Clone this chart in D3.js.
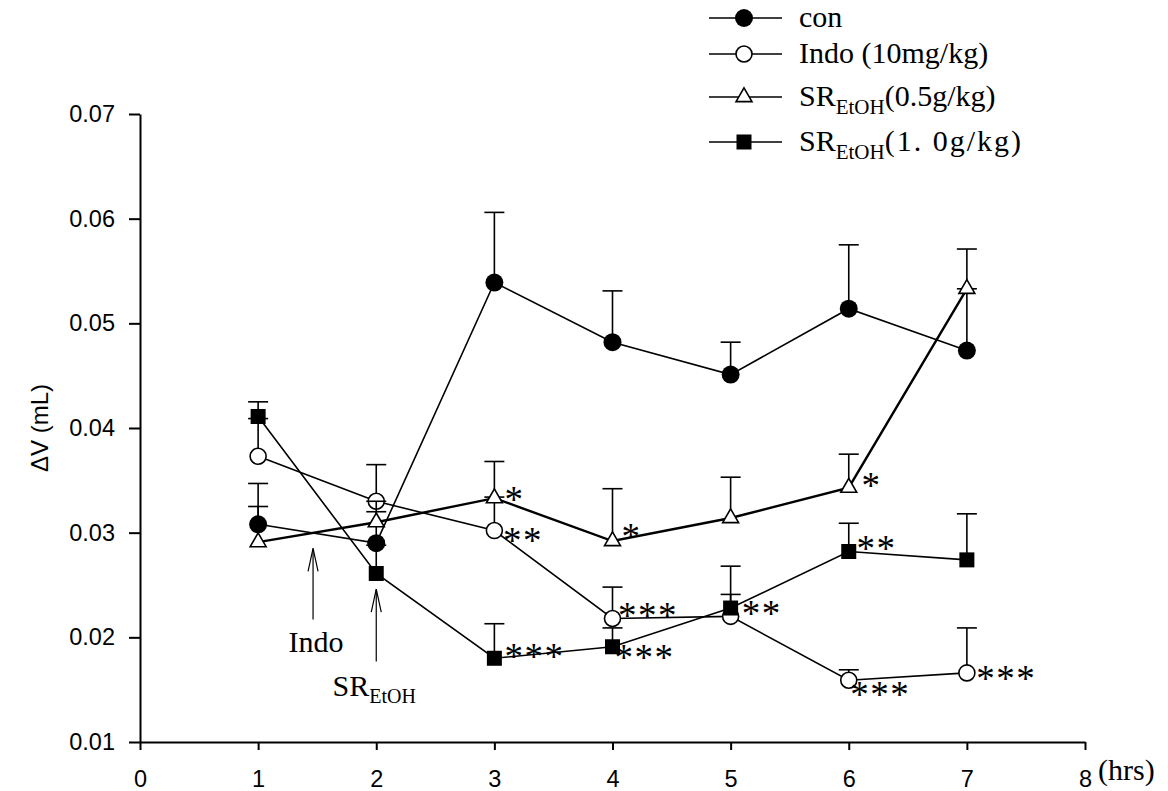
<!DOCTYPE html>
<html><head><meta charset="utf-8">
<script src="https://cdn.jsdelivr.net/npm/d3@7"></script>
<style>
html,body{margin:0;padding:0;background:#fff;}
svg{display:block;}
</style></head>
<body>
<svg id="chart" width="1168" height="791"></svg>
<script>
// ---------- data ----------
const hours = [1, 2, 3, 4, 5, 6, 7];
const xTicks = [0, 1, 2, 3, 4, 5, 6, 7, 8];
const yTicks = [0.01, 0.02, 0.03, 0.04, 0.05, 0.06, 0.07];

const conMean  = [0.0308, 0.0290, 0.0539, 0.0482, 0.0451, 0.0514, 0.0474];
const conSem   = [0.0039, 0.0030, 0.0067, 0.0049, 0.0031, 0.0061, 0.0059];
const indoMean = [0.0373, 0.0330, 0.0302, 0.0218, 0.0220, 0.0159, 0.0166];
const indoSem  = [0.0036, 0.0035, 0.0032, 0.0030, 0.0021, 0.0010, 0.0043];
const sr05Mean = [0.0291, 0.0310, 0.0333, 0.0292, 0.0314, 0.0343, 0.0533];
const sr05Sem  = [0.0034, 0.0020, 0.0035, 0.0050, 0.0039, 0.0032, 0.0038];
const sr10Mean = [0.0411, 0.0261, 0.0180, 0.0191, 0.0228, 0.0282, 0.0274];
const sr10Sem  = [0.0014, 0.0027, 0.0033, 0.0018, 0.0040, 0.0027, 0.0044];

const seriesNames = ["con", "Indo (10mg/kg)", "SR(0.5g/kg)", "SR(1.0g/kg)"];

// significance marks: series index, hour index, label
const sigSeries = [2, 1, 2, 1, 3, 3, 3, 2, 3, 1, 1];
const sigHour   = [2, 2, 3, 3, 3, 2, 4, 5, 5, 5, 6];
const sigText   = ["*", "**", "*", "***", "***", "***", "**", "*", "**", "***", "***"];

// ---------- layout ----------
const sigOffset = [[19,-3],[17.5,5.7],[18,-9],[14.5,-7.3],[11,6.6],[19,-6.6],[20,1],[21.7,-6.6],[16.7,-7.7],[10.4,10],[18.3,1.3]];

const svg = d3.select("#chart");
const x = d3.scaleLinear().domain([0, 8]).range([140, 1085]);
const y = d3.scaleLinear().domain([0.01, 0.07]).range([742, 114]);

const series = [
  {mean: conMean,  sem: conSem,  type: "filledCircle", lw: 1.6},
  {mean: indoMean, sem: indoSem, type: "openCircle",   lw: 1.6},
  {mean: sr05Mean, sem: sr05Sem, type: "triangle",     lw: 2.4},
  {mean: sr10Mean, sem: sr10Sem, type: "square",       lw: 1.6}
];

function drawMarker(g, type, cx, cy) {
  if (type === "filledCircle") {
    g.append("circle").attr("cx", cx).attr("cy", cy).attr("r", 9).attr("fill", "#000");
  } else if (type === "openCircle") {
    g.append("circle").attr("cx", cx).attr("cy", cy).attr("r", 8)
      .attr("fill", "#fff").attr("stroke", "#000").attr("stroke-width", 1.6);
  } else if (type === "triangle") {
    g.append("path").attr("d", d3.symbol().type(d3.symbolTriangle).size(110)())
      .attr("transform", `translate(${cx},${cy})`)
      .attr("fill", "#fff").attr("stroke", "#000").attr("stroke-width", 1.6);
  } else {
    g.append("rect").attr("x", cx - 7.5).attr("y", cy - 7.5).attr("width", 15).attr("height", 15).attr("fill", "#000");
  }
}

const sansFont = "'Liberation Sans', Arial, sans-serif";
const serifFont = "'Liberation Serif', 'Times New Roman', serif";

// axes
const yAxis = d3.axisLeft(y).tickValues(yTicks).tickFormat(d3.format(".2f")).tickSize(11).tickPadding(14).tickSizeOuter(0);
const xAxis = d3.axisBottom(x).tickValues(xTicks).tickFormat(d3.format("d")).tickSize(8).tickPadding(20).tickSizeOuter(0);

const gy = svg.append("g").attr("transform", `translate(${x(0)},0)`).call(yAxis);
const gx = svg.append("g").attr("transform", `translate(0,${y(0.01)})`).call(xAxis);
[gx, gy].forEach(g => {
  g.selectAll("path,line").attr("stroke", "#000").attr("stroke-width", 2);
  g.selectAll("text").attr("fill", "#000").style("font-family", sansFont).style("font-size", "23.5px");
});

// axis titles
svg.append("text").attr("transform", `translate(48,${y(0.04)}) rotate(-90)`)
  .attr("text-anchor", "middle").style("font-family", sansFont).style("font-size", "24px")
  .text("ΔV (mL)");
svg.append("text").attr("x", x(8) + 13).attr("y", 780)
  .style("font-family", serifFont).style("font-size", "30px").text("(hrs)");

// series
const line = d3.line().x((d, i) => x(hours[i])).y(d => y(d));
series.forEach(s => {
  const g = svg.append("g");
  g.append("path").attr("d", line(s.mean)).attr("fill", "none").attr("stroke", "#000").attr("stroke-width", s.lw);
  s.mean.forEach((m, i) => {
    const cx = x(hours[i]);
    g.append("line").attr("x1", cx).attr("x2", cx).attr("y1", y(m)).attr("y2", y(m + s.sem[i]))
      .attr("stroke", "#000").attr("stroke-width", 1.6);
    g.append("line").attr("x1", cx - 10).attr("x2", cx + 10).attr("y1", y(m + s.sem[i])).attr("y2", y(m + s.sem[i]))
      .attr("stroke", "#000").attr("stroke-width", 1.6);
  });
  s.mean.forEach((m, i) => drawMarker(g, s.type, x(hours[i]), y(m)));
});

// significance stars
sigSeries.forEach((si, k) => {
  const hi = sigHour[k];
  const px = x(hours[hi]) + sigOffset[k][0];
  const py = y(series[si].mean[hi]) + sigOffset[k][1];
  svg.append("text").attr("x", px - 9).attr("y", py + 17)
    .style("font-family", serifFont).style("font-size", "37px")
    .style("letter-spacing", "1.5px").text(sigText[k]);
});

// arrows
function arrow(xv, yTip, yEnd) {
  const ax = x(xv), t = y(yTip), b = y(yEnd);
  svg.append("line").attr("x1", ax).attr("x2", ax).attr("y1", t).attr("y2", b).attr("stroke", "#000").attr("stroke-width", 1.2);
  svg.append("path").attr("d", `M${ax - 5},${t + 23}L${ax},${t}L${ax + 5},${t + 23}`)
    .attr("fill", "none").attr("stroke", "#000").attr("stroke-width", 1.2);
  return b;
}
const indoBottom = arrow(1.465, 0.0285, 0.0217);
svg.append("text").attr("x", x(1.465) + 3).attr("y", indoBottom + 32).attr("text-anchor", "middle")
  .style("font-family", serifFont).style("font-size", "30px").text("Indo");
const srBottom = arrow(2, 0.0246, 0.0177);
const srLab = svg.append("text").attr("x", x(2) - 2).attr("y", srBottom + 35).attr("text-anchor", "middle")
  .style("font-family", serifFont).style("font-size", "30px");
srLab.append("tspan").text("SR");
srLab.append("tspan").attr("dy", 7).style("font-size", "20px").text("EtOH");

// legend
const legRows = [18, 54, 97, 142];
const legTypes = ["filledCircle", "openCircle", "triangle", "square"];
legRows.forEach((ry, i) => {
  const g = svg.append("g");
  g.append("line").attr("x1", 709).attr("x2", 782).attr("y1", ry).attr("y2", ry).attr("stroke", "#000").attr("stroke-width", 1.6);
  drawMarker(g, legTypes[i], 744, ry);
  const t = g.append("text").attr("x", 799).attr("y", ry + 9).style("font-family", serifFont).style("font-size", "30px");
  if (i < 2) {
    t.text(seriesNames[i]);
  } else {
    t.append("tspan").text("SR");
    t.append("tspan").attr("dy", 8).style("font-size", "21px").text("EtOH");
    const rest = i === 2 ? "(0.5g/kg)" : "(1. 0g/kg)";
    const sp = t.append("tspan").attr("dy", -8).text(rest);
    if (i === 3) sp.style("letter-spacing", "2px");
  }
});
</script>
</body></html>
